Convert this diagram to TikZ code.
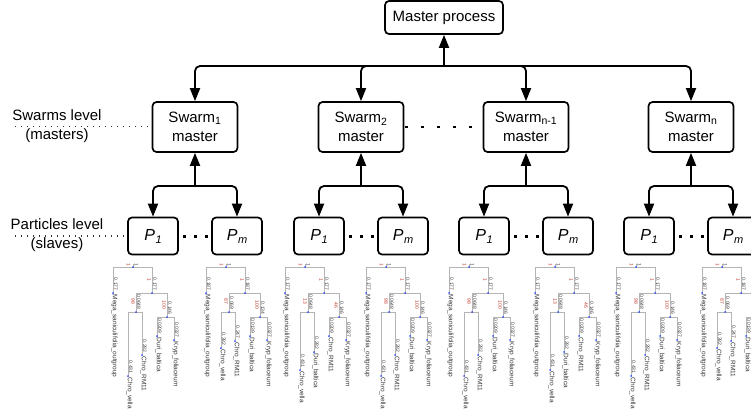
\documentclass[tikz,border=0pt]{standalone}
\usepackage{fontspec}
\setmainfont{Liberation Sans}
\usetikzlibrary{arrows.meta}
\definecolor{treegray}{HTML}{B4B4B4}
\definecolor{treeblue}{HTML}{2A4BFF}
\definecolor{treered}{HTML}{C0392B}
\newcommand{\pname}[1]{\textit{P\kern0.5pt\raisebox{-3pt}{\fontsize{11}{11}\selectfont #1}}}

\begin{document}
\begin{tikzpicture}[x=1pt, y=-1pt,
    box/.style={draw, line width=1.7pt, rounded corners=4pt, align=center, inner sep=0pt},
    master/.style={box, minimum width=118pt, minimum height=33pt, font=\fontsize{15}{18}\selectfont},
    swarm/.style={box, minimum width=85pt, minimum height=50pt, font=\fontsize{15}{19}\selectfont},
    particle/.style={box, minimum width=50pt, minimum height=37pt, font=\fontsize{16}{16}\selectfont},
    level/.style={align=center, font=\fontsize{15}{19}\selectfont},
    arr/.style={line width=1.8pt, rounded corners=5pt, -{Triangle[length=13pt,width=10pt]}},
    lvdots/.style={line width=1.1pt, black!80, dash pattern=on 1.1pt off 4.9pt},
    swdots/.style={line width=2.5pt, dash pattern=on 2.5pt off 13.5pt, dash phase=15pt},
    pdots/.style={line width=3pt, dash pattern=on 3pt off 8pt, dash phase=6.5pt},
    tline/.style={treegray, line width=0.8pt},
    blen/.style={rotate=-90, anchor=south east, inner sep=0.4pt, font=\fontsize{5}{5}\selectfont, text=black!75},
    bsup/.style={rotate=-90, anchor=north, inner sep=0.4pt, font=\fontsize{5}{5}\selectfont, text=treered},
    leaf/.style={rotate=-90, anchor=west, inner sep=0.5pt, font=\fontsize{6.5}{6.5}\selectfont, text=black!80}]

    \useasboundingbox (0,0) rectangle (751,415);
    \clip (0,0) rectangle (751,415);

    % top level
    \node[master] (master) at (444,17.5) {Master process};
    \coordinate (bus) at (444,66);
    \draw[arr] (bus) -- (master);

    % swarms and their particles
    \foreach \g/\x/\s in {1/195/1, 2/361/2, 3/526/n-1, 4/691/n} {
        \node[swarm] (sw\g) at (\x,127) {Swarm\textsubscript{\s}\\master};
        \node[particle] (pa\g) at (\x-42,236) {\pname{1}};
        \node[particle] (pb\g) at (\x+42,236) {\pname{m}};
        \coordinate (j\g) at (\x,186);
        \draw[arr] (bus) -| (sw\g);
        \draw[arr] (j\g) -- (sw\g);
        \draw[arr] (j\g) -| (pa\g);
        \draw[arr] (j\g) -| (pb\g);
        \draw[pdots] (pa\g) -- (pb\g);
    }
    \draw[swdots] (sw2) -- (sw3);

    % level labels
    \node[level] (swlab) at (57,126.5) {Swarms level\\(masters)};
    \coordinate (swdot) at (15,126.5);
    \draw[lvdots] (swdot) -- (swdot -| sw1.west);
    \node[level] (palab) at (57,235.5) {Particles level\\(slaves)};
    \coordinate (padot) at (15,236);
    \draw[lvdots] (padot) -- (padot -| pa1.west);

    % trees found by each particle
    \foreach \tx/\lout/\spa/\lena/\lenaa/\lenab/\nab/\spb/\lenb/\lenba/\nba/\yaa/\yab in {
        113/0.177/98/0.0648/0.431/0.282/Chro\_RM11/100/0.146/0.0209/Duri\_baltica/109/88,
        206/0.187/87/0.069/0.382/0.247/Chro\_RM11/100/0.134/0.0139/Duri\_baltica/81/74,
        285/0.177/13/0.0648/0.431/0.282/Duri\_baltica/46/0.146/0.0209/Chro\_RM11/103/85,
        366/0.177/98/0.0648/0.431/0.282/Chro\_RM11/100/0.146/0.0209/Duri\_baltica/109/88,
        449/0.177/98/0.0648/0.431/0.282/Chro\_RM11/100/0.146/0.0209/Duri\_baltica/109/88,
        535/0.177/13/0.0648/0.431/0.282/Duri\_baltica/46/0.146/0.0209/Chro\_RM11/103/85,
        616/0.177/98/0.0648/0.431/0.282/Chro\_RM11/100/0.146/0.0209/Duri\_baltica/109/88,
        702/0.187/87/0.069/0.382/0.247/Chro\_RM11/100/0.134/0.0139/Duri\_baltica/81/74} {
        \begin{scope}[shift={(\tx,267)}]
            \draw[tline] (20,0) -- (20,-3);
            \draw[tline] (0,26) -- (0,0) -- (39,0) -- (39,26);
            \draw[tline] (23,45) -- (23,26) -- (54,26) -- (54,50);
            \draw[tline] (15,\yaa) -- (15,45) -- (29,45) -- (29,\yab);
            \draw[tline] (44,69) -- (44,50) -- (61,50) -- (61,73);
            \foreach \p in {(20,0),(0,26),(39,26),(23,45),(54,50),(15,\yaa),(29,\yab),(44,69),(61,73)}
                \fill[treeblue] \p circle (1pt);
            \node[bsup, anchor=north east] at (18,-0.5) {1};
            \node[blen] at (21,-0.5) {1};
            \node[blen] at (0.5,24) {\lout};
            \node[leaf] at (1.5,27) {Mega\_saniculifolia\_outgroup};
            \node[bsup] at (38.5,13) {1};
            \node[blen] at (39.5,24) {\lout};
            \node[bsup] at (22.5,34) {\spa};
            \node[blen] at (23.5,43) {\lena};
            \node[bsup] at (53.5,38) {\spb};
            \node[blen] at (54.5,48) {\lenb};
            \node[blen] at (15.5,\yaa-2) {\lenaa};
            \node[leaf] at (16.5,\yaa+1) {Chro\_vella};
            \node[blen] at (29.5,\yab-2) {\lenab};
            \node[leaf] at (30.5,\yab+1) {\nab};
            \node[blen] at (44.5,67) {\lenba};
            \node[leaf] at (45.5,70) {\nba};
            \node[blen] at (61.5,71) {0.0327};
            \node[leaf] at (62.5,74) {Kryp\_foliaceum};
        \end{scope}
    }
\end{tikzpicture}
\end{document}
